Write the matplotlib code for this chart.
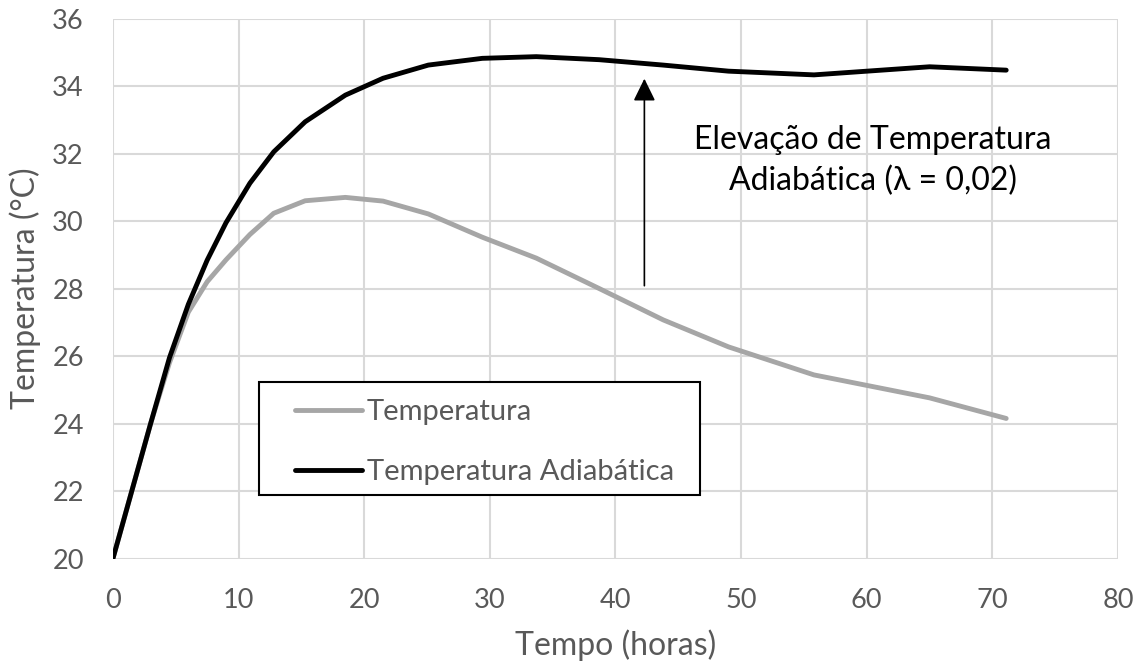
import numpy as np
import matplotlib.pyplot as plt
from matplotlib.patches import Rectangle

plt.rcParams['font.family'] = ['Lato', 'DejaVu Sans']

# tempo (h) e temperaturas (°C)
tempo = [0, 1.5, 3, 4.5, 6, 7.5, 9, 10.9, 12.8, 15.3, 18.5, 21.5, 25.1,
         29.4, 33.7, 38.7, 43.8, 49.0, 55.8, 65.0, 71.1]
temperatura = [20, 22.0, 24.0, 25.8, 27.3, 28.2, 28.85, 29.6, 30.23, 30.6,
               30.7, 30.59, 30.21, 29.52, 28.9, 28.0, 27.07, 26.27, 25.44,
               24.76, 24.15]
temp_adiabatica = [20, 22.0, 24.0, 25.95, 27.53, 28.84, 29.95, 31.12, 32.05,
                   32.94, 33.73, 34.23, 34.62, 34.82, 34.87, 34.78, 34.62,
                   34.44, 34.33, 34.57, 34.47]

xticks = np.arange(0, 81, 10)
yticks = np.arange(20, 37, 2)

fig = plt.figure(figsize=(11.42, 6.66), dpi=100)
ax = fig.add_axes([0.0989, 0.1614, 0.8801, 0.8108])

ax.plot(tempo, temperatura, color='#a6a6a6', lw=3.5, label='Temperatura',
        solid_capstyle='round', zorder=3)
ax.plot(tempo, temp_adiabatica, color='black', lw=3.5,
        label='Temperatura Adiabática', solid_capstyle='round', zorder=3)

ax.set_xlim(0, 80)
ax.set_ylim(20, 36)
ax.set_xticks(xticks)
ax.set_yticks(yticks)
ax.grid(True, color='#d9d9d9', lw=1.5)
for s in ax.spines.values():
    s.set_visible(False)
ax.tick_params(length=0, labelsize=19.5, colors='#595959')
ax.tick_params(axis='x', pad=21)
ax.tick_params(axis='y', pad=21)
ax.set_xlabel('Tempo (horas)', fontsize=23, color='#595959', labelpad=12)
ax.set_ylabel('Temperatura (°C)', fontsize=23, color='#595959', labelpad=8)

# seta e texto da elevação adiabática
ax.annotate('', xy=(42.3, 34.3), xytext=(42.3, 28.0),
            arrowprops=dict(arrowstyle='-|>,head_length=0.55,head_width=0.27',
                            color='black', lw=1.2, mutation_scale=25))
ax.text(60.5, 31.78, 'Elevação de Temperatura\nAdiabática (λ = 0,02)',
        ha='center', va='center', fontsize=23, linespacing=1.44)

# caixa da legenda
ax.add_patch(Rectangle((0.1453, 0.1176), 0.4387, 0.2094, transform=ax.transAxes,
                       facecolor='white', edgecolor='black', lw=1.5, zorder=4))
leg = ax.legend(loc='upper left', bbox_to_anchor=(0.1811, 0.2954),
                borderaxespad=0, borderpad=0, fontsize=21, frameon=False,
                handlelength=2.3, handletextpad=0.17, labelspacing=1.18)
leg.set_zorder(5)
for t in leg.get_texts():
    t.set_color('#595959')

plt.savefig('out.png', dpi=100)
